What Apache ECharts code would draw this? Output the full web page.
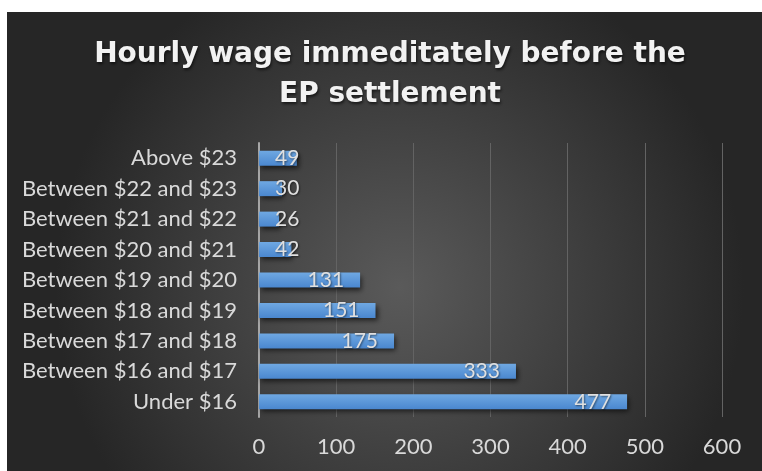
<!DOCTYPE html>
<html><head><meta charset="utf-8">
<script src="https://cdn.jsdelivr.net/npm/echarts@6/dist/echarts.min.js"></script>
<style>html,body{margin:0;padding:0;background:#fff}#c{width:762px;height:471px}</style>
</head><body><div id="c"></div>
<script>
const titleLines = ['Hourly wage immeditately before the', 'EP settlement'];
const categories = ['Under $16','Between $16 and $17','Between $17 and $18','Between $18 and $19','Between $19 and $20','Between $20 and $21','Between $21 and $22','Between $22 and $23','Above $23'];
const counts = [477, 333, 175, 151, 131, 42, 26, 30, 49];
const xTicks = {min: 0, max: 600, interval: 100};

const chart = echarts.init(document.getElementById('c'));
const labelBase = {show: true, color: '#e0e0e0', fontSize: 21, fontFamily: 'Lato',
  textShadowColor: 'rgba(0,0,0,0.5)', textShadowBlur: 2, textShadowOffsetX: 1, textShadowOffsetY: 1};
chart.setOption({
  backgroundColor: '#ffffff',
  animation: false,
  graphic: [{
    type: 'rect', z: -100, silent: true,
    shape: {x: 7, y: 12, width: 755, height: 459},
    style: {fill: new echarts.graphic.RadialGradient(0.52, 0.6, 0.75, [
      {offset: 0, color: '#5a5a5a'}, {offset: 1, color: '#262626'}])}
  }],
  title: {
    text: titleLines.join('\n'),
    left: 385, top: 30, textAlign: 'center',
    textStyle: {color: '#f2f2f2', fontSize: 28, fontWeight: 'bold', fontFamily: 'DejaVu Sans',
      lineHeight: 40, textShadowColor: 'rgba(0,0,0,0.6)', textShadowBlur: 3, textShadowOffsetX: 1, textShadowOffsetY: 2}
  },
  grid: {left: 259, right: 40, top: 143, bottom: 54, containLabel: false},
  xAxis: {
    type: 'value', min: xTicks.min, max: xTicks.max, interval: xTicks.interval,
    axisLine: {show: false}, axisTick: {show: false},
    splitLine: {lineStyle: {color: '#636363', width: 1}},
    axisLabel: {color: '#d9d9d9', fontSize: 22, fontFamily: 'Lato', margin: 19}
  },
  yAxis: {
    type: 'category', data: categories,
    axisLine: {lineStyle: {color: '#a6a6a6', width: 2}}, axisTick: {show: false},
    axisLabel: {color: '#d9d9d9', fontSize: 22, fontFamily: 'Lato', margin: 22}
  },
  series: [{
    type: 'bar', barWidth: 15,
    data: counts.map(v => ({value: v,
      label: v < 100 ? Object.assign({}, labelBase, {position: 'insideLeft', distance: 16})
                     : Object.assign({}, labelBase, {position: 'insideRight', distance: 16})})),
    itemStyle: {
      color: new echarts.graphic.LinearGradient(0, 0, 0, 1, [
        {offset: 0, color: '#6fa8e2'}, {offset: 1, color: '#4a87cf'}]),
      shadowColor: 'rgba(0,0,0,0.6)', shadowBlur: 5, shadowOffsetX: 2, shadowOffsetY: 3
    }
  }]
});
</script></body></html>
